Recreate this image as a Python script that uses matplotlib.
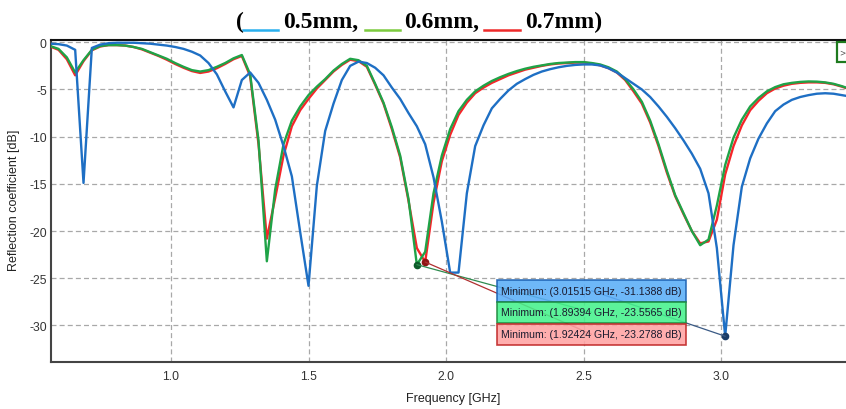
import numpy as np
import matplotlib
matplotlib.use("Agg")
import matplotlib.pyplot as plt
from matplotlib.patches import Rectangle, ConnectionPatch
from matplotlib.lines import Line2D

plt.rcParams['axes.unicode_minus'] = False

# ---------------- data ----------------
freq = np.linspace(0.5, 3.5, 100)  # GHz sweep grid (step 1/33 GHz)

s11_05mm = [-0.1, -0.1, -0.15, -0.2, -0.35, -0.8, -14.9, -0.6, -0.25, -0.1,
            -0.05, -0.05, -0.05, -0.1, -0.15, -0.25, -0.35, -0.5, -0.7, -1.0,
            -1.4, -2.2, -3.4, -5.2, -6.9, -4.0, -3.2, -4.3, -6.1, -8.2,
            -11.0, -14.2, -20.1, -25.8, -15.2, -9.4, -6.5, -4.0, -2.5, -2.05,
            -2.2, -2.7, -3.5, -4.8, -6.0, -7.5, -8.9, -10.8, -14.3, -19.0,
            -24.4, -24.4, -16.0, -11.0, -8.8, -7.0, -6.0, -5.1, -4.4, -3.9,
            -3.45, -3.1, -2.85, -2.65, -2.5, -2.4, -2.35, -2.35, -2.45, -2.75,
            -3.2, -3.8, -4.4, -5.0, -5.8, -6.8, -7.9, -9.1, -10.4, -11.8,
            -13.4, -16.0, -21.8, -31.1388, -21.5, -15.3, -12.3, -10.2, -8.6, -7.3,
            -6.6, -6.1, -5.8, -5.6, -5.45, -5.4, -5.45, -5.6, -5.75, -5.9]

s11_06mm = [-0.2, -0.3, -0.4, -0.7, -1.6, -3.2, -1.9, -0.8, -0.4, -0.3,
            -0.3, -0.35, -0.5, -0.7, -1.05, -1.4, -1.75, -2.2, -2.6, -2.95,
            -3.1, -2.95, -2.6, -2.2, -1.7, -1.35, -3.4, -10.4, -23.2, -15.6,
            -10.8, -8.3, -6.8, -5.6, -4.7, -3.9, -3.0, -2.3, -1.75, -1.9,
            -2.5, -4.4, -6.4, -9.0, -12.0, -16.6, -23.5565, -22.2, -16.0, -12.0,
            -9.2, -7.3, -6.1, -5.2, -4.6, -4.1, -3.7, -3.35, -3.05, -2.8,
            -2.6, -2.45, -2.3, -2.2, -2.15, -2.1, -2.1, -2.2, -2.35, -2.65,
            -3.1, -3.9, -5.0, -6.3, -8.3, -10.8, -13.6, -16.2, -18.1, -20.0,
            -21.5, -20.9, -17.3, -13.0, -10.1, -8.2, -6.8, -5.9, -5.2, -4.75,
            -4.45, -4.3, -4.2, -4.15, -4.17, -4.25, -4.4, -4.65, -4.95, -5.3]

s11_07mm = [-0.2, -0.3, -0.45, -0.8, -1.8, -3.5, -2.0, -0.85, -0.45, -0.3,
            -0.3, -0.35, -0.5, -0.75, -1.1, -1.45, -1.85, -2.3, -2.7, -3.05,
            -3.25, -3.1, -2.75, -2.3, -1.8, -1.45, -3.6, -10.8, -20.8, -16.5,
            -12.0, -8.9, -7.2, -6.0, -4.9, -4.0, -3.1, -2.4, -1.85, -2.0,
            -2.6, -4.5, -6.5, -9.2, -12.2, -16.8, -21.8, -23.2788, -17.0, -12.6,
            -9.8, -7.7, -6.4, -5.4, -4.8, -4.3, -3.9, -3.5, -3.2, -2.9,
            -2.7, -2.5, -2.35, -2.25, -2.2, -2.15, -2.15, -2.25, -2.45, -2.75,
            -3.2, -4.0, -5.2, -6.5, -8.5, -11.0, -13.8, -16.3, -18.2, -20.0,
            -21.3, -21.1, -18.8, -14.0, -11.0, -8.8, -7.2, -6.2, -5.4, -4.9,
            -4.6, -4.4, -4.3, -4.25, -4.25, -4.3, -4.45, -4.7, -5.0, -5.3]

min_freqs = [3.01515, 1.89394, 1.92424]
min_vals = [-31.1388, -23.5565, -23.2788]
min_labels = ["Minimum: (3.01515 GHz, -31.1388 dB)",
              "Minimum: (1.89394 GHz, -23.5565 dB)",
              "Minimum: (1.92424 GHz, -23.2788 dB)"]

x_ticks = [1.0, 1.5, 2.0, 2.5, 3.0]
x_ticklabels = ["1.0", "1.5", "2.0", "2.5", "3.0"]
y_ticks = [0, -5, -10, -15, -20, -25, -30]
y_ticklabels = ["0", "-5", "-10", "-15", "-20", "-25", "-30"]

legend_names = ["0.5mm,", "0.6mm,", "0.7mm)"]

# ---------------- figure ----------------
W, H = 846, 410
fig = plt.figure(figsize=(W / 100, H / 100), dpi=100)

def fx(px):
    return px / W

def fy(py):
    return 1 - py / H

L, T, B = 51, 41, 363
ax = fig.add_axes([fx(L), fy(B), 1 - fx(L), (B - T) / H])

c_blue = '#1E6FC4'
c_green = '#1FA347'
c_red = '#F5262A'

ax.plot(freq, s11_07mm, color=c_red, lw=1.7, zorder=3)
ax.plot(freq, s11_06mm, color=c_green, lw=1.7, zorder=4)
ax.plot(freq, s11_05mm, color=c_blue, lw=1.7, zorder=5)

ax.set_xlim(0.5636, 3.4545)
ax.set_ylim(-33.87, 0.24)
ax.set_xticks(x_ticks)
ax.set_xticklabels(x_ticklabels)
ax.set_yticks(y_ticks)
ax.set_yticklabels(y_ticklabels)
ax.tick_params(length=0, labelsize=8.7, labelcolor='#333333')
ax.tick_params(axis='x', pad=6)
ax.tick_params(axis='y', pad=3)
for lab in ax.get_xticklabels() + ax.get_yticklabels():
    lab.set_family('Liberation Sans')
ax.grid(True, color='#A8A8A8', lw=0.9, ls=(0, (4, 2.5)))
ax.set_axisbelow(True)

ax.spines['right'].set_visible(False)
ax.spines['top'].set_color('#111111')
ax.spines['top'].set_linewidth(1.5)
for s in ['left', 'bottom']:
    ax.spines[s].set_color('#444444')
    ax.spines[s].set_linewidth(1.5)

fig.text(fx(453), fy(399), "Frequency [GHz]", ha='center', va='center',
         fontsize=9, family='Liberation Sans', color='#222222')
fig.text(fx(14), fy(200), "Reflection coefficient [dB]", ha='center', va='center',
         rotation=90, fontsize=9, family='Liberation Sans', color='#222222')

# ---------------- minimum markers and labels ----------------
mk_cols = ['#1B3C66', '#0D5C2A', '#8E1515']
ln_cols = ['#3A5A85', '#2E8B4F', '#B03030']
box_face = ['#5AAEF8', '#45F28C', '#FFA3A3']
box_edge = ['#1A5FB0', '#1E8A3E', '#C02424']
box_top = [281, 302.5, 324.5]
box_h = 21.5
bx0, bx1 = 497, 686
for i in range(3):
    ax.plot([min_freqs[i]], [min_vals[i]], 'o', color=mk_cols[i], ms=4.5, zorder=8)
    cy = box_top[i] + box_h / 2
    con = ConnectionPatch(xyA=(min_freqs[i], min_vals[i]), coordsA=ax.transData,
                          xyB=(fx((bx0 + bx1) / 2), fy(cy)), coordsB=fig.transFigure,
                          color=ln_cols[i], lw=0.9, zorder=6)
    fig.add_artist(con)
for i in range(3):
    cy = box_top[i] + box_h / 2
    rect = Rectangle((fx(bx0), fy(box_top[i] + box_h)), fx(bx1 - bx0), box_h / H,
                     transform=fig.transFigure, facecolor=box_face[i],
                     edgecolor=box_edge[i], lw=1.2, alpha=0.88, zorder=7)
    fig.add_artist(rect)
    fig.text(fx(bx0 + 4), fy(cy), min_labels[i], ha='left', va='center',
             fontsize=7.6, family='Liberation Sans', color='#1A1A2E', zorder=9)

# small close button at top right
fig.add_artist(Rectangle((fx(837), fy(63)), fx(20), 20 / H, transform=fig.transFigure,
                         facecolor='white', edgecolor='#1E7A1E', lw=1.6, zorder=9))
fig.text(fx(839.5), fy(53), ">", ha='left', va='center', fontsize=5.5,
         color='#555555', family='DejaVu Sans', zorder=10)

# ---------------- title with coloured line legend ----------------
tfont = dict(family='Liberation Serif', weight='bold', fontsize=17, color='black')
base = fy(28)
fig.text(fx(236), base, "(", ha='left', va='baseline', **tfont)
title_line_cols = ['#2AB0EE', '#7CCB3E', '#EE2A2A']
seg_x = [(243, 278), (365, 400), (484, 520)]
txt_x = [283, 404, 525]
for i in range(3):
    x0, x1 = seg_x[i]
    fig.add_artist(Line2D([fx(x0), fx(x1)], [fy(31), fy(31)], transform=fig.transFigure,
                          color=title_line_cols[i], lw=1.8))
    fig.text(fx(txt_x[i]), base, legend_names[i], ha='left', va='baseline', **tfont)

fig.savefig("out.png", dpi=100)
